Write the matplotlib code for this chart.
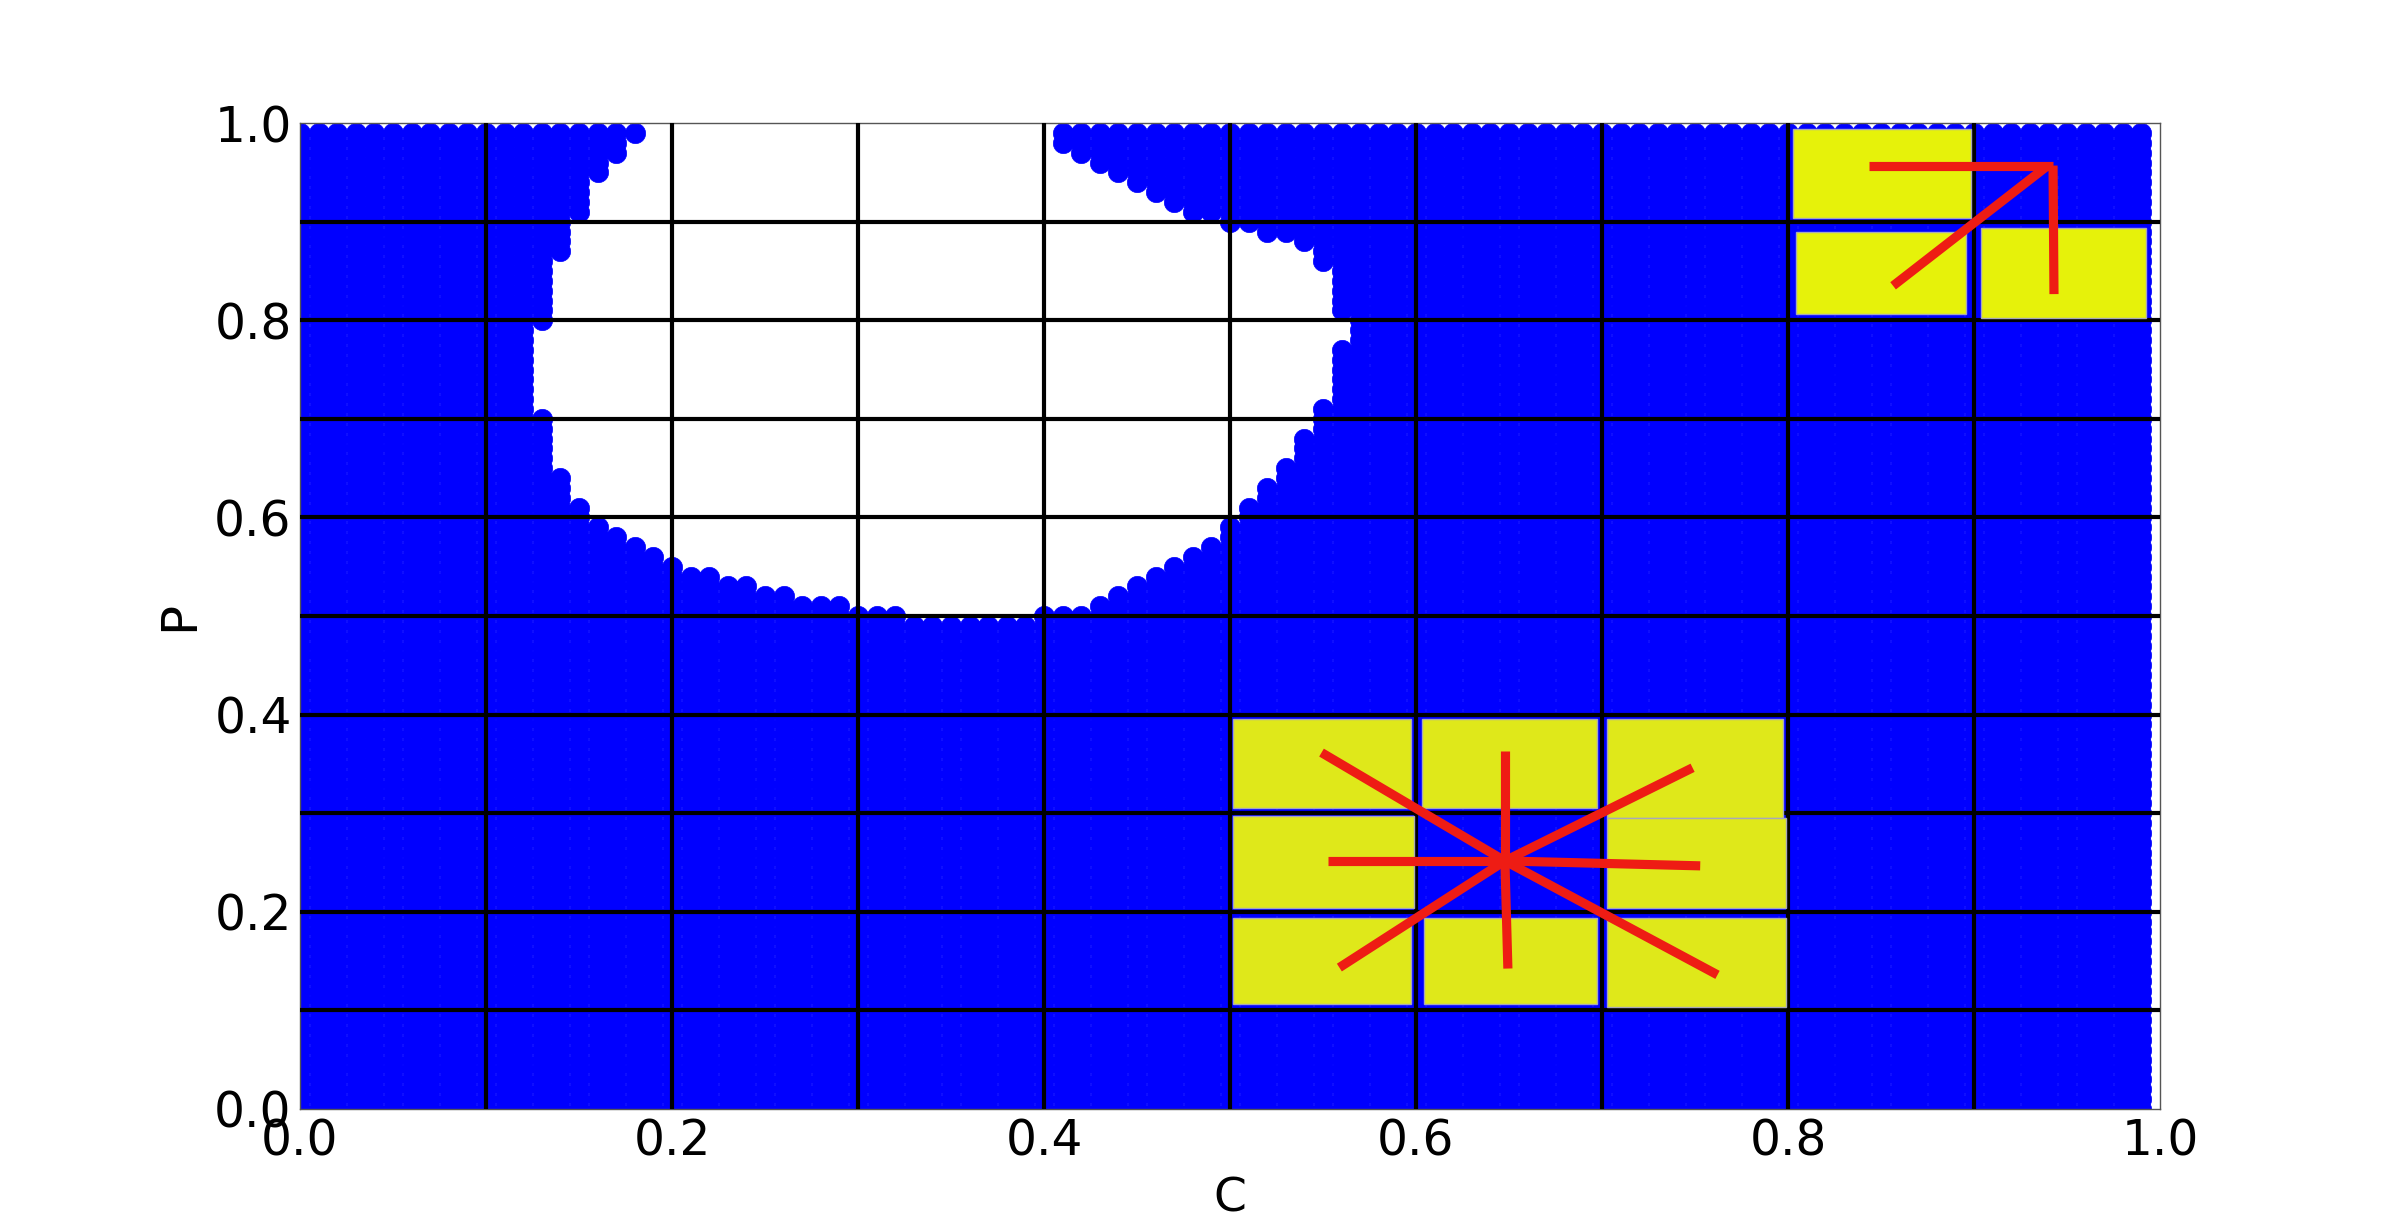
import numpy as np
import matplotlib
matplotlib.use("Agg")
import matplotlib.pyplot as plt
from matplotlib.patches import Rectangle

# ---- data ----
grid_step = 0.01
# rows of the hole (P = 0.50 ... 0.99)
hole_rows = [0.50, 0.51, 0.52, 0.53, 0.54, 0.55, 0.56, 0.57, 0.58, 0.59,
             0.60, 0.61, 0.62, 0.63, 0.64, 0.65, 0.66, 0.67, 0.68, 0.69,
             0.70, 0.71, 0.72, 0.73, 0.74, 0.75, 0.76, 0.77, 0.78, 0.79,
             0.80, 0.81, 0.82, 0.83, 0.84, 0.85, 0.86, 0.87, 0.88, 0.89,
             0.90, 0.91, 0.92, 0.93, 0.94, 0.95, 0.96, 0.97, 0.98, 0.99]
# last filled C on the left of the hole, first filled C on the right
hole_left = [0.32, 0.29, 0.26, 0.24, 0.22, 0.20, 0.19, 0.18, 0.17, 0.16,
             0.15, 0.15, 0.14, 0.14, 0.14, 0.13, 0.13, 0.13, 0.13, 0.13,
             0.13, 0.12, 0.12, 0.12, 0.12, 0.12, 0.12, 0.12, 0.12, 0.12,
             0.13, 0.13, 0.13, 0.13, 0.13, 0.13, 0.13, 0.14, 0.14, 0.14,
             0.14, 0.15, 0.15, 0.15, 0.15, 0.16, 0.16, 0.17, 0.17, 0.18]
hole_right = [0.40, 0.43, 0.44, 0.45, 0.46, 0.47, 0.48, 0.49, 0.50, 0.50,
              0.51, 0.51, 0.52, 0.52, 0.53, 0.53, 0.54, 0.54, 0.54, 0.55,
              0.55, 0.55, 0.56, 0.56, 0.56, 0.56, 0.56, 0.56, 0.57, 0.57,
              0.57, 0.56, 0.56, 0.56, 0.56, 0.56, 0.55, 0.55, 0.54, 0.52,
              0.50, 0.48, 0.47, 0.46, 0.45, 0.44, 0.43, 0.42, 0.41, 0.41]

# yellow boxes
box_c0 = [0.5018, 0.6032, 0.7028, 0.5018, 0.7028, 0.5018, 0.6043, 0.7028, 0.8025, 0.8043, 0.9038]
box_c1 = [0.5975, 0.6973, 0.7975, 0.5991, 0.7987, 0.5975, 0.6973, 0.7987, 0.8982, 0.8957, 0.9925]
box_p0 = [0.3056, 0.3056, 0.2955, 0.2040, 0.2040, 0.1068, 0.1068, 0.1034, 0.9041, 0.8061, 0.8027]
box_p1 = [0.3950, 0.3950, 0.3950, 0.2970, 0.2948, 0.1940, 0.1940, 0.1940, 0.9940, 0.8899, 0.8933]
box_col = ['#dfe81a'] * 8 + ['#e6f20a'] * 3

# red segments
seg_c0 = [0.6478, 0.6478, 0.6478, 0.6478, 0.6478, 0.6478, 0.6478, 0.6478, 0.9425, 0.9425, 0.9390]
seg_p0 = [0.2515, 0.2515, 0.2515, 0.2515, 0.2515, 0.2515, 0.2515, 0.2515, 0.9570, 0.9570, 0.9560]
seg_c1 = [0.5492, 0.6478, 0.7487, 0.5528, 0.7528, 0.5588, 0.6494, 0.7621, 0.8435, 0.9430, 0.8565]
seg_p1 = [0.3614, 0.3630, 0.3460, 0.2515, 0.2465, 0.1433, 0.1423, 0.1359, 0.9570, 0.8266, 0.8350]

ticks = [0.0, 0.2, 0.4, 0.6, 0.8, 1.0]
tick_labels = ['0.0', '0.2', '0.4', '0.6', '0.8', '1.0']
grid_lines = [0.1, 0.2, 0.3, 0.4, 0.5, 0.6, 0.7, 0.8, 0.9]

# ---- build the point cloud ----
vals = np.round(np.arange(0, 100) * grid_step, 2)
CC, PP = np.meshgrid(vals, vals)
CC = CC.ravel(); PP = PP.ravel()
keep = np.ones(CC.shape, dtype=bool)
for p, lo, hi in zip(hole_rows, hole_left, hole_right):
    m = np.isclose(PP, p) & (CC > lo + 1e-9) & (CC < hi - 1e-9)
    keep &= ~m
CC = CC[keep]; PP = PP[keep]

fig = plt.figure(figsize=(24, 12.32), dpi=100)
ax = fig.add_subplot(111)
fig.subplots_adjust(left=0.125, right=0.9, bottom=0.1, top=0.9)

ax.plot(CC, PP, linestyle='none', marker='o', ms=14.6, color='#0000ff',
        mec='#0000ff', mew=0.5, zorder=2)

for g in grid_lines:
    ax.axhline(g, color='black', lw=3.0, zorder=3)
    ax.axvline(g, color='black', lw=3.0, zorder=3)

for c0, c1, p0, p1, col in zip(box_c0, box_c1, box_p0, box_p1, box_col):
    ax.add_patch(Rectangle((c0, p0), c1 - c0, p1 - p0, facecolor=col,
                           edgecolor='#a8a8b8', lw=1.0, zorder=4))

for c0, p0, c1, p1 in zip(seg_c0, seg_p0, seg_c1, seg_p1):
    ax.plot([c0, c1], [p0, p1], color='#ee1c14', lw=6.6,
            solid_capstyle='butt', zorder=5)

ax.set_xlim(0, 1)
ax.set_ylim(0, 1)
ax.set_xticks(ticks)
ax.set_xticklabels(tick_labels)
ax.set_yticks(ticks)
ax.set_yticklabels(tick_labels)
ax.tick_params(length=0, pad=6, labelsize=35)
for s in ax.spines.values():
    s.set_linewidth(1.0)
    s.set_color('#555555')
ax.set_xlabel('C', fontsize=34, labelpad=8)
ax.set_ylabel('P', fontsize=36, labelpad=8)

fig.savefig('out.png', dpi=100, facecolor='white')
